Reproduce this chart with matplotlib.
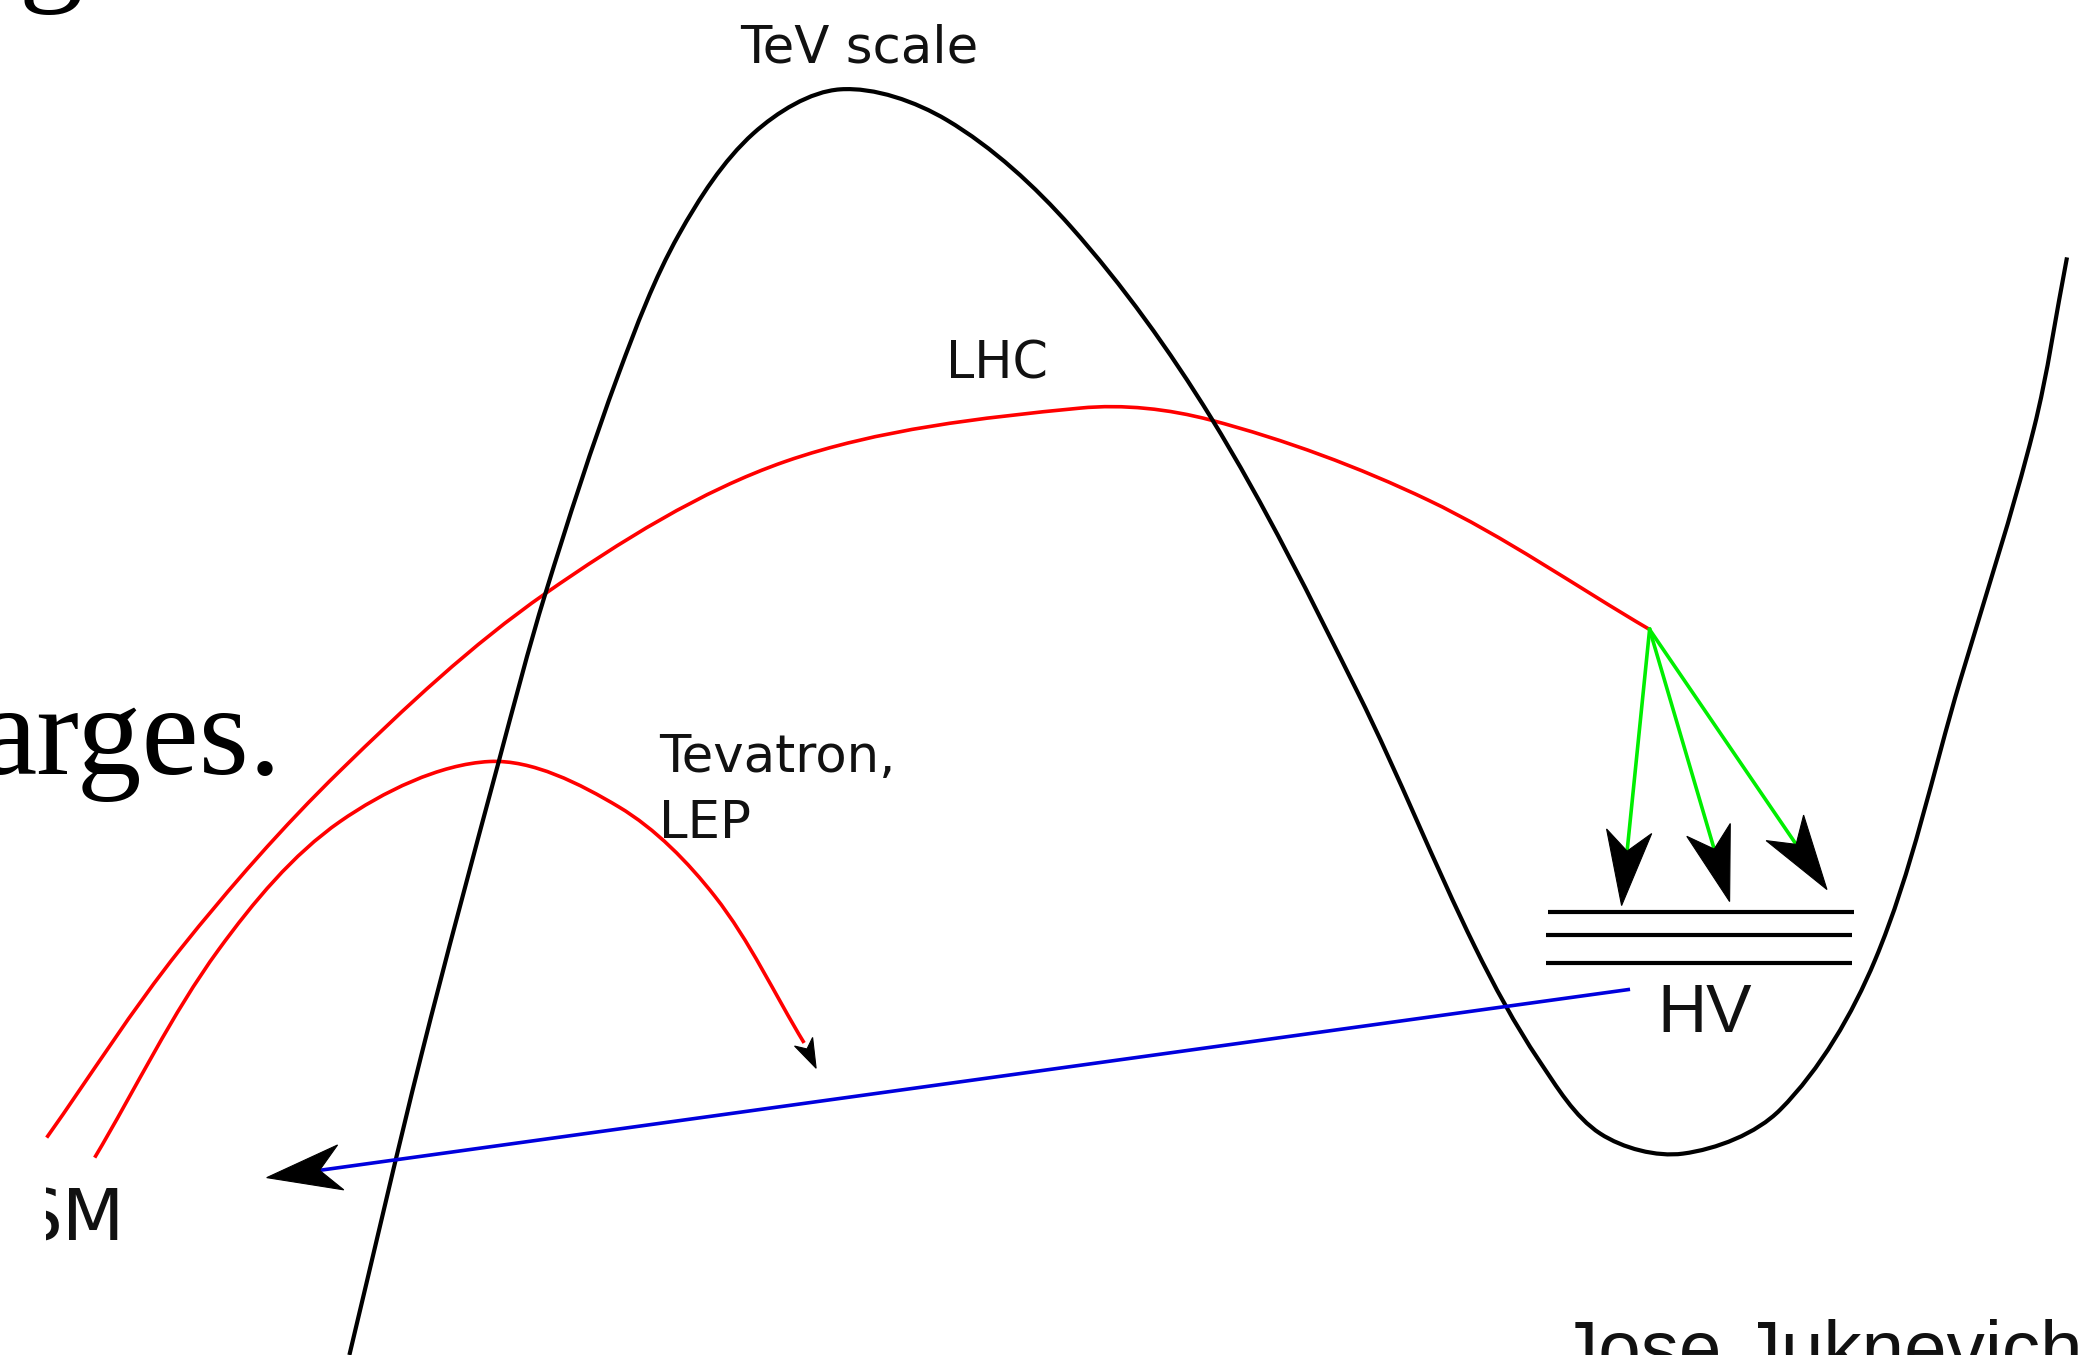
import numpy as np
import matplotlib
matplotlib.use("Agg")
import matplotlib.pyplot as plt
from matplotlib.patches import Polygon, PathPatch, Rectangle
from matplotlib.path import Path

# ---- data (diagram coordinates, x right, y down; 1568 x 1016 canvas) ----
barrier_x = [262, 316, 374, 409, 464, 509, 565, 630, 710, 803, 908, 1018, 1106,
             1154, 1200, 1262, 1335, 1406, 1470, 1525, 1550]
barrier_y = [1016, 791, 571, 445, 280, 176, 100, 67, 90, 170, 313, 519, 710,
             795, 850, 865, 832, 720, 510, 322, 193]

lhc_x = [35, 135, 255, 409, 589, 810, 908, 1071, 1237]
lhc_y = [853, 712, 578, 445, 346, 306, 315, 375, 472]

tev_x = [71, 164, 255, 367, 464, 536, 603]
tev_y = [868, 712, 616, 571, 605, 672, 782]
tev_tip = (612, 801)

decay_origin = (1237, 472)
decay_tips = [(1216, 679), (1297, 676), (1370, 667)]

hv_levels_y = [684, 701, 722]
hv_levels_x = [(1161, 1390), (1159, 1389), (1159, 1389)]

blue_start = (1221, 742)
blue_tip = (200, 883)

# ---- figure ----
W, H = 2091, 1355
fig = plt.figure(figsize=(W / 100, H / 100), dpi=100)
ax = fig.add_axes([0, 0, 1, 1])
ax.set_xlim(0, 1568)
ax.set_ylim(1016, 0)
ax.axis("off")


def smooth_path(xs, ys):
    """Cubic Bezier path through the given points (chord-length scaled tangents)."""
    P = np.column_stack([xs, ys]).astype(float)
    n = len(P)
    d = np.linalg.norm(np.diff(P, axis=0), axis=1)
    T = np.zeros_like(P)
    for i in range(n):
        if i == 0:
            T[i] = (P[1] - P[0]) / d[0]
        elif i == n - 1:
            T[i] = (P[-1] - P[-2]) / d[-1]
        else:
            T[i] = (P[i + 1] - P[i - 1]) / (d[i - 1] + d[i])
    verts = [P[0]]
    codes = [Path.MOVETO]
    for i in range(n - 1):
        c1 = P[i] + T[i] * d[i] / 3.0
        c2 = P[i + 1] - T[i + 1] * d[i] / 3.0
        verts += [c1, c2, P[i + 1]]
        codes += [Path.CURVE4] * 3
    return Path(verts, codes)


def curve(xs, ys, color, lw, z):
    ax.add_patch(PathPatch(smooth_path(xs, ys), facecolor="none", edgecolor=color,
                           lw=lw, capstyle="butt", joinstyle="round", zorder=z))


def head(tip, frm, L, Wd, N):
    tip = np.array(tip, float)
    u = tip - np.array(frm, float)
    u /= np.linalg.norm(u)
    n = np.array([-u[1], u[0]])
    back = tip - L * u
    pts = [tip, back + Wd * n, tip - (L - N) * u, back - Wd * n]
    ax.add_patch(Polygon(pts, closed=True, facecolor="black", edgecolor="black",
                         lw=0.8, zorder=5))
    return tip - (L - N) * u


# barrier
curve(barrier_x, barrier_y, "black", 3.0, 3)

# LHC arc
curve(lhc_x, lhc_y, "#ff0000", 2.6, 2)

# Tevatron arc with small arrow
curve(tev_x, tev_y, "#ff0000", 2.6, 2)
head(tev_tip, (tev_x[-1], tev_y[-1]), 22, 7.5, 6)

# decay arrows
for t in decay_tips:
    notch = head(t, decay_origin, 56, 17, 15)
    ax.plot([decay_origin[0], notch[0]], [decay_origin[1], notch[1]],
            color="#00ee00", lw=2.6, zorder=4)

# HV levels
for yv, (x0, x1) in zip(hv_levels_y, hv_levels_x):
    ax.plot([x0, x1], [yv, yv], color="black", lw=3.0, solid_capstyle="butt", zorder=3)

# blue arrow
notch = head(blue_tip, blue_start, 56, 17, 16)
ax.plot([blue_start[0], notch[0]], [blue_start[1], notch[1]], color="#0000dd",
        lw=2.6, zorder=4)

# labels
dv = "DejaVu Sans"
ax.text(644, 47, "TeV scale", fontsize=37, family=dv, ha="center", va="baseline", color="#111111")
ax.text(748, 283.5, "LHC", fontsize=36.5, family=dv, ha="center", va="baseline", color="#111111")
ax.text(494, 579, "Tevatron,", fontsize=37, family=dv, ha="left", va="baseline", color="#111111")
ax.text(494, 628, "LEP", fontsize=37, family=dv, ha="left", va="baseline", color="#111111")
sm = ax.text(93, 930, "SM", fontsize=52, family=dv, ha="right", va="baseline",
             color="#111111", clip_on=True)
sm.set_clip_path(Rectangle((34.5, 0), 2000, 2000, transform=ax.transData))
ax.text(1243, 774, "HV", fontsize=49, family="Liberation Sans", ha="left", va="baseline",
        color="#111111")
ax.text(1170, 1030, "Jose Juknevich", fontsize=55, family="Liberation Sans", ha="left",
        va="baseline", color="#111111")
ax.text(211, 580, "arges.", fontsize=93, family="Liberation Serif", ha="right",
        va="baseline", color="black")
ax.text(13.5, -10, "g", fontsize=93, family="Liberation Serif", ha="left",
        va="baseline", color="black")

fig.savefig("out.png", dpi=100)
